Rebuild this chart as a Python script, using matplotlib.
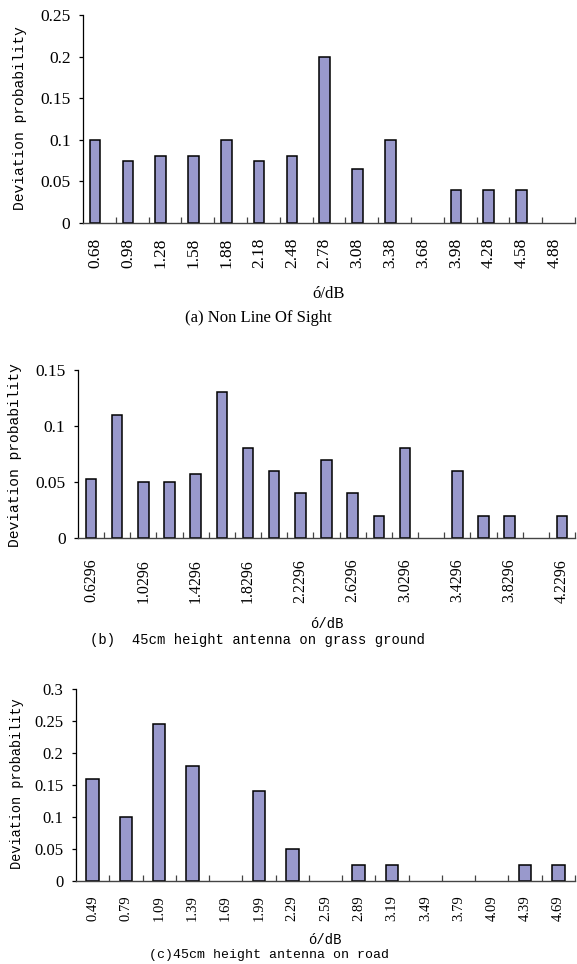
import numpy as np
import matplotlib
matplotlib.use("Agg")
import matplotlib.pyplot as plt

plt.rcParams['font.family'] = ['Liberation Serif', 'DejaVu Serif']

# (a) non line of sight
labels_a = ['0.68', '0.98', '1.28', '1.58', '1.88', '2.18', '2.48', '2.78',
            '3.08', '3.38', '3.68', '3.98', '4.28', '4.58', '4.88']
prob_a = [0.1, 0.075, 0.08, 0.08, 0.1, 0.075, 0.08, 0.2,
          0.065, 0.1, 0.0, 0.04, 0.04, 0.04, 0.0]
yticks_a = [0, 0.05, 0.1, 0.15, 0.2, 0.25]
ylabels_a = ['0', '0.05', '0.1', '0.15', '0.2', '0.25']

# (b) 45cm antenna, grass
labels_b = ['0.6296', '', '1.0296', '', '1.4296', '', '1.8296', '', '2.2296', '',
            '2.6296', '', '3.0296', '', '3.4296', '', '3.8296', '', '4.2296']
prob_b = [0.053, 0.11, 0.05, 0.05, 0.057, 0.13, 0.08, 0.06, 0.04, 0.07,
          0.04, 0.02, 0.08, 0.0, 0.06, 0.02, 0.02, 0.0, 0.02]
yticks_b = [0, 0.05, 0.1, 0.15]
ylabels_b = ['0', '0.05', '0.1', '0.15']

# (c) 45cm antenna, road
labels_c = ['0.49', '0.79', '1.09', '1.39', '1.69', '1.99', '2.29', '2.59',
            '2.89', '3.19', '3.49', '3.79', '4.09', '4.39', '4.69']
prob_c = [0.16, 0.1, 0.245, 0.18, 0.0, 0.14, 0.05, 0.0,
          0.025, 0.025, 0.0, 0.0, 0.0, 0.025, 0.025]
yticks_c = [0, 0.05, 0.1, 0.15, 0.2, 0.25, 0.3]
ylabels_c = ['0', '0.05', '0.1', '0.15', '0.2', '0.25', '0.3']

W, H = 577, 964
fig = plt.figure(figsize=(W / 100, H / 100), dpi=100)
fig.patch.set_facecolor('white')

BAR = '#9999cc'
MONO = ['Liberation Mono', 'DejaVu Sans Mono']


def panel(left, right, top, bottom, labels, vals, yt, yl, width, shift,
          xfs, yfs, xpad):
    ax = fig.add_axes([left / W, 1 - bottom / H, (right - left) / W, (bottom - top) / H])
    n = len(vals)
    pos = np.arange(n) + shift
    # empty classes get no outline
    edges = ['black' if v > 0 else 'none' for v in vals]
    ax.bar(pos, vals, width=width, color=BAR, edgecolor=edges, linewidth=1.1, zorder=3)
    ax.set_xlim(-0.5, n - 0.5)
    ax.set_ylim(yt[0], yt[-1])
    ax.set_yticks(yt)
    ax.set_yticklabels(yl, fontsize=yfs)
    ax.set_xticks(pos)
    ax.set_xticklabels(labels, rotation=90, fontsize=xfs)
    ax.set_xticks(np.arange(n) + 0.5, minor=True)
    ax.tick_params(axis='x', which='major', length=0, pad=xpad)
    ax.tick_params(axis='x', which='minor', direction='in', length=4, width=0.9, color='#444444')
    ax.tick_params(axis='y', direction='out', length=3, width=0.9, pad=6)
    for s in ['top', 'right']:
        ax.spines[s].set_visible(False)
    ax.spines['left'].set_linewidth(0.9)
    ax.spines['bottom'].set_linewidth(1.0)
    ax.spines['bottom'].set_color('#444444')
    ax.spines['bottom'].set_zorder(4)
    return ax


def ftext(x, y, s, **kw):
    fig.text(x / W, 1 - y / H, s, ha='center', va='center', **kw)


panel(83, 575, 15, 223, labels_a, prob_a, yticks_a, ylabels_a, 0.32, -0.13, 12.5, 12.5, 10.5)
ftext(20, 118, 'Deviation probability', rotation=90, fontsize=10.5, family=MONO)
ftext(329, 294, 'ó/dB', fontsize=12)
ftext(258, 318, '(a) Non Line Of Sight', fontsize=12)

panel(78, 575, 370, 538, labels_b, prob_b, yticks_b, ylabels_b, 0.4, 0.0, 11.5, 12.5, 15)
ftext(15, 455, 'Deviation probability', rotation=90, fontsize=10.5, family=MONO)
ftext(327, 624, 'ó/dB', fontsize=10, family=MONO)
ftext(258, 640, '(b)  45cm height antenna on grass ground', fontsize=10, family=MONO)

panel(76, 575, 689, 881, labels_c, prob_c, yticks_c, ylabels_c, 0.38, 0.0, 10.5, 12, 10)
ftext(17, 784, 'Deviation probability', rotation=90, fontsize=9.8, family=MONO)
ftext(325, 940, 'ó/dB', fontsize=10, family=MONO)
ftext(269, 955, '(c)45cm height antenna on road', fontsize=9.5, family=MONO)

fig.savefig('out.png', dpi=100, facecolor='white')
